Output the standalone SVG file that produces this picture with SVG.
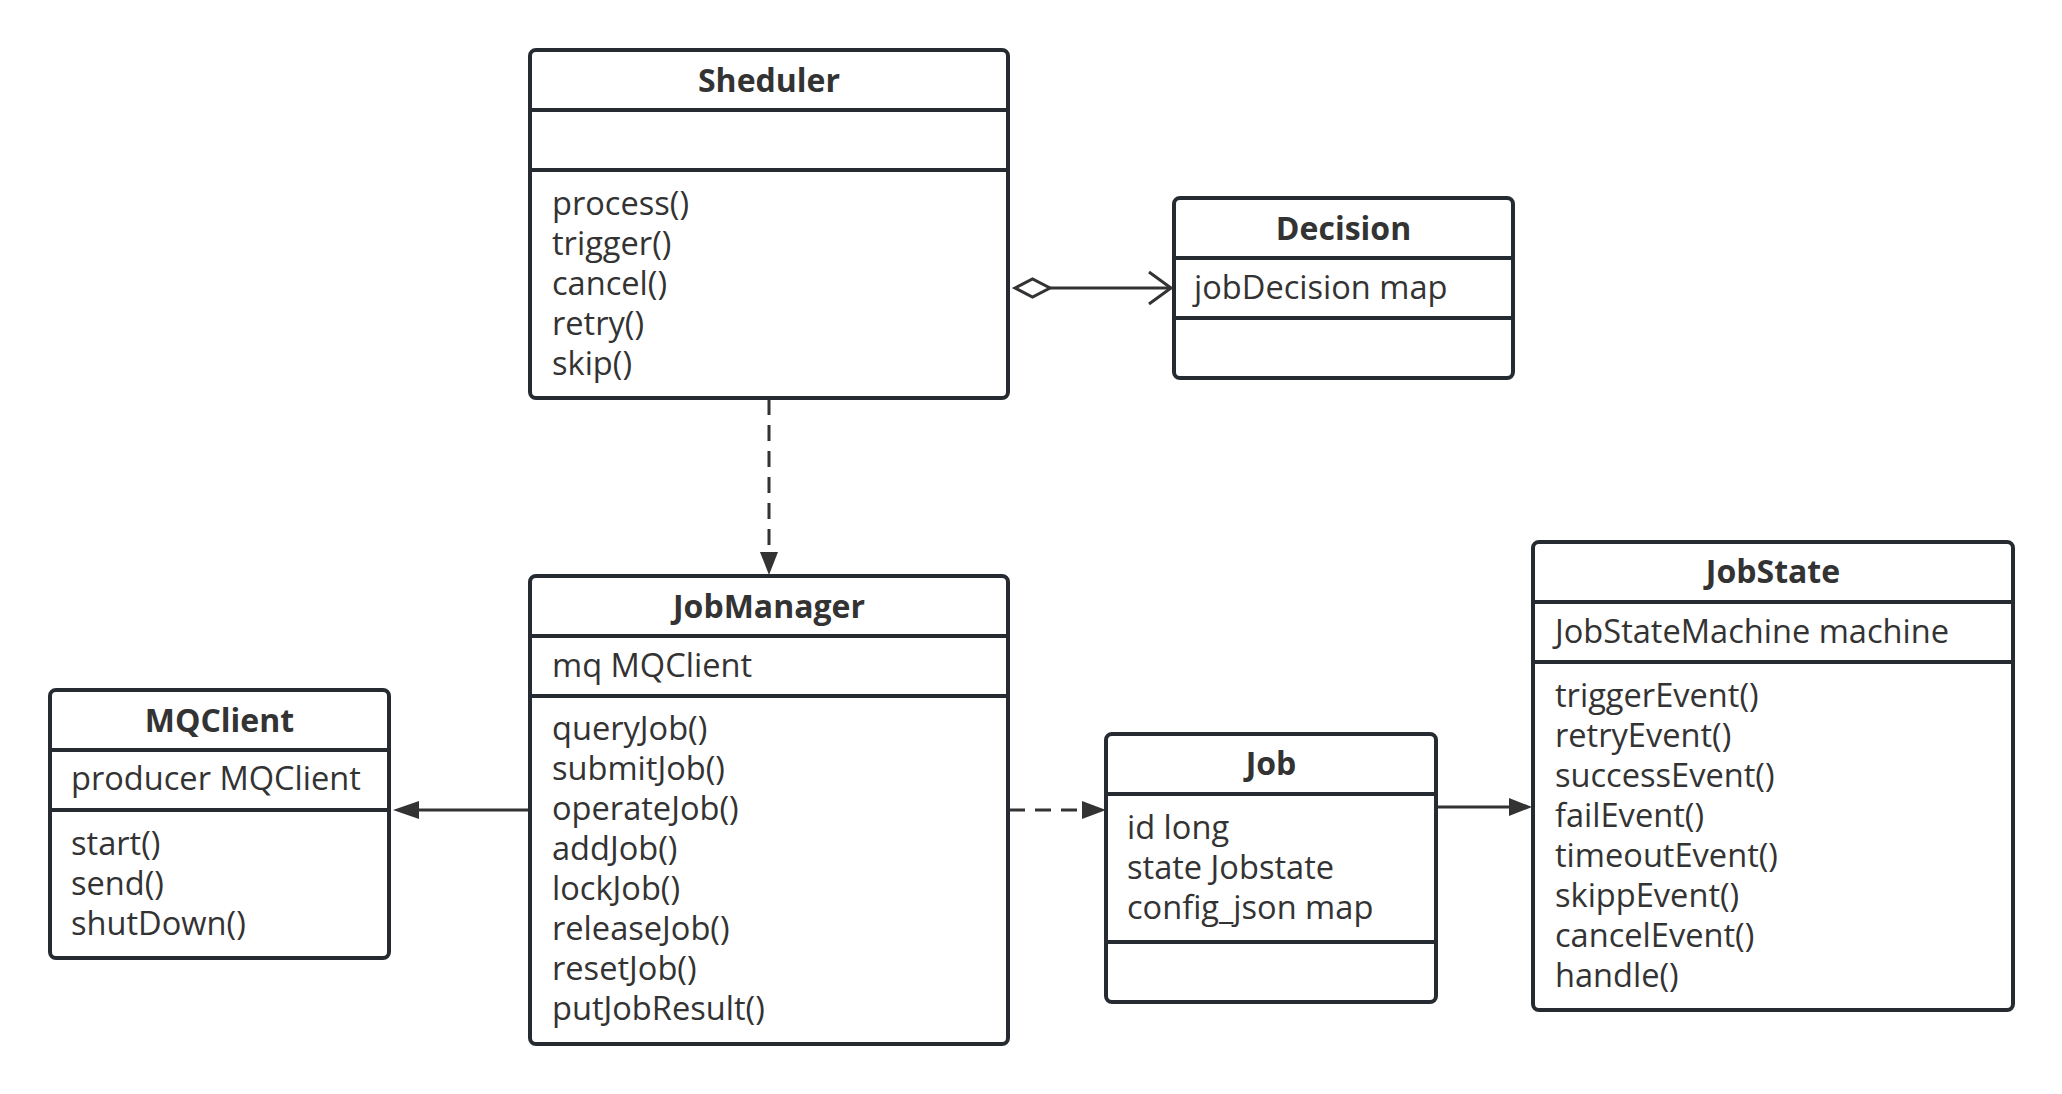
<svg xmlns="http://www.w3.org/2000/svg" width="2062" height="1094" viewBox="0 0 2062 1094">
  <style>
    .box { fill: #ffffff; stroke: #262b31; stroke-width: 4; }
    .div { stroke: #262b31; stroke-width: 4; }
    .title { font-family: "Open Sans", "Noto Sans", sans-serif; font-size: 32px; font-weight: bold; fill: #333333; text-anchor: middle; }
    .txt { font-family: "Open Sans", "Noto Sans", sans-serif; font-size: 32.6px; fill: #333333; }
    .line { stroke: #333333; stroke-width: 3; fill: none; }
    .dash { stroke-dasharray: 16 10; }
    .head { fill: #333333; stroke: none; }
  </style>
  <rect width="2062" height="1094" fill="#ffffff"/>

  <g id="connectors">
    <!-- Sheduler -> Decision (aggregation) -->
    <polygon points="1015,288 1032.5,279 1050,288 1032.5,297" fill="#ffffff" stroke="#333333" stroke-width="3"/>
    <line class="line" x1="1050" y1="288" x2="1170" y2="288"/>
    <polyline class="line" points="1149,272 1171,288 1149,304"/>
    <!-- Sheduler -> JobManager (dashed) -->
    <line class="line dash" x1="769" y1="399" x2="769" y2="552"/>
    <polygon class="head" points="760,552 778,552 769,575"/>
    <!-- JobManager -> MQClient -->
    <line class="line" x1="530" y1="810" x2="418" y2="810"/>
    <polygon class="head" points="419,801 419,819 393,810"/>
    <!-- JobManager -> Job (dashed) -->
    <line class="line dash" x1="1009" y1="810" x2="1083" y2="810"/>
    <polygon class="head" points="1082,801 1082,819 1106,810"/>
    <!-- Job -> JobState -->
    <line class="line" x1="1436" y1="807" x2="1510" y2="807"/>
    <polygon class="head" points="1509,798 1509,816 1532,807"/>
  </g>

  <g id="Sheduler">
    <rect class="box" x="530" y="50" width="478" height="348" rx="6"/>
    <line class="div" x1="530" y1="110" x2="1008" y2="110"/>
    <line class="div" x1="530" y1="170" x2="1008" y2="170"/>
    <text class="title" x="769" y="92">Sheduler</text>
    <text class="txt" x="552" y="215">process()</text>
    <text class="txt" x="552" y="255">trigger()</text>
    <text class="txt" x="552" y="295">cancel()</text>
    <text class="txt" x="552" y="335">retry()</text>
    <text class="txt" x="552" y="375">skip()</text>
  </g>

  <g id="Decision">
    <rect class="box" x="1174" y="198" width="339" height="180" rx="6"/>
    <line class="div" x1="1174" y1="258" x2="1513" y2="258"/>
    <line class="div" x1="1174" y1="318" x2="1513" y2="318"/>
    <text class="title" x="1343.5" y="240">Decision</text>
    <text class="txt" x="1194" y="299">jobDecision map</text>
  </g>

  <g id="MQClient">
    <rect class="box" x="50" y="690" width="339" height="268" rx="6"/>
    <line class="div" x1="50" y1="750" x2="389" y2="750"/>
    <line class="div" x1="50" y1="810" x2="389" y2="810"/>
    <text class="title" x="219.5" y="732">MQClient</text>
    <text class="txt" x="71" y="790">producer MQClient</text>
    <text class="txt" x="71" y="855">start()</text>
    <text class="txt" x="71" y="895">send()</text>
    <text class="txt" x="71" y="935">shutDown()</text>
  </g>

  <g id="JobManager">
    <rect class="box" x="530" y="576" width="478" height="468" rx="6"/>
    <line class="div" x1="530" y1="636" x2="1008" y2="636"/>
    <line class="div" x1="530" y1="696" x2="1008" y2="696"/>
    <text class="title" x="769" y="618">JobManager</text>
    <text class="txt" x="552" y="677">mq MQClient</text>
    <text class="txt" x="552" y="740">queryJob()</text>
    <text class="txt" x="552" y="780">submitJob()</text>
    <text class="txt" x="552" y="820">operateJob()</text>
    <text class="txt" x="552" y="860">addJob()</text>
    <text class="txt" x="552" y="900">lockJob()</text>
    <text class="txt" x="552" y="940">releaseJob()</text>
    <text class="txt" x="552" y="980">resetJob()</text>
    <text class="txt" x="552" y="1020">putJobResult()</text>
  </g>

  <g id="Job">
    <rect class="box" x="1106" y="734" width="330" height="268" rx="6"/>
    <line class="div" x1="1106" y1="794" x2="1436" y2="794"/>
    <line class="div" x1="1106" y1="942" x2="1436" y2="942"/>
    <text class="title" x="1271" y="775">Job</text>
    <text class="txt" x="1127" y="839">id long</text>
    <text class="txt" x="1127" y="879">state Jobstate</text>
    <text class="txt" x="1127" y="919">config_json map</text>
  </g>

  <g id="JobState">
    <rect class="box" x="1533" y="542" width="480" height="468" rx="6"/>
    <line class="div" x1="1533" y1="602" x2="2013" y2="602"/>
    <line class="div" x1="1533" y1="662" x2="2013" y2="662"/>
    <text class="title" x="1773" y="583">JobState</text>
    <text class="txt" x="1555" y="643">JobStateMachine machine</text>
    <text class="txt" x="1555" y="707">triggerEvent()</text>
    <text class="txt" x="1555" y="747">retryEvent()</text>
    <text class="txt" x="1555" y="787">successEvent()</text>
    <text class="txt" x="1555" y="827">failEvent()</text>
    <text class="txt" x="1555" y="867">timeoutEvent()</text>
    <text class="txt" x="1555" y="907">skippEvent()</text>
    <text class="txt" x="1555" y="947">cancelEvent()</text>
    <text class="txt" x="1555" y="987">handle()</text>
  </g>
</svg>
